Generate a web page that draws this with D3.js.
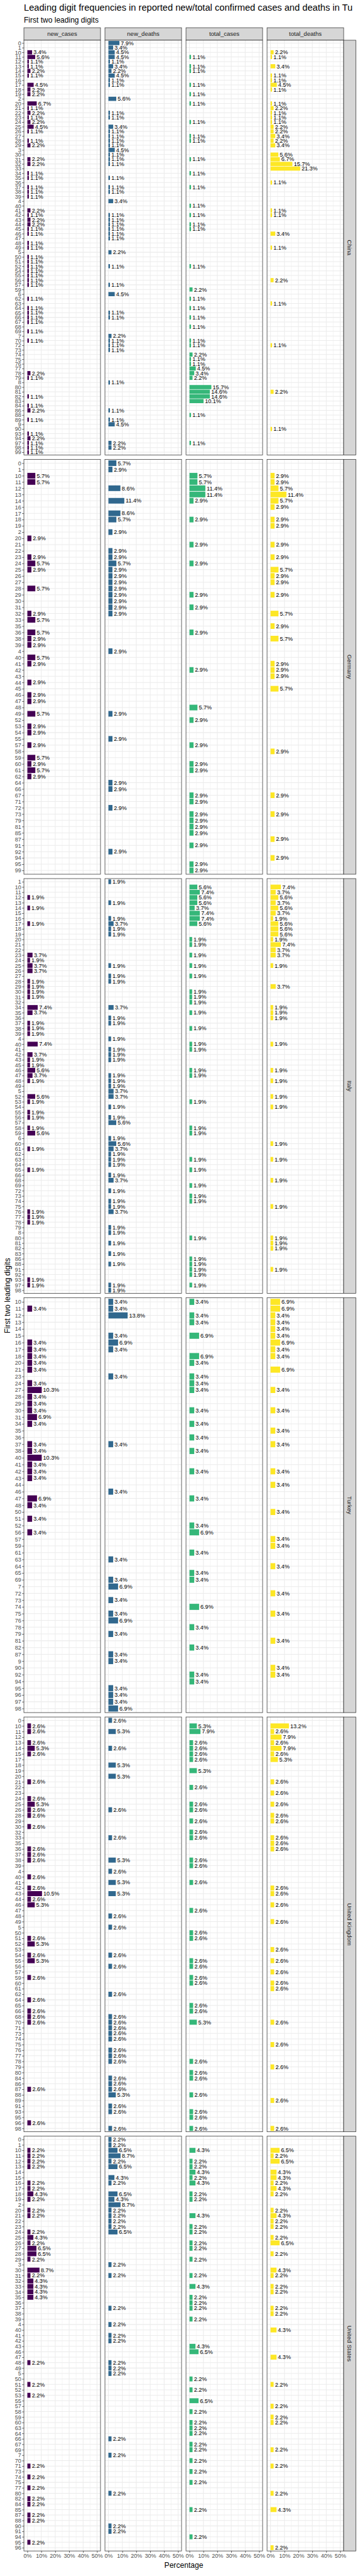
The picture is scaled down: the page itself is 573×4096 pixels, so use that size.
<!DOCTYPE html>
<html><head><meta charset="utf-8">
<script src="https://cdn.jsdelivr.net/npm/d3@7"></script>
<style>body{margin:0;background:#fff}svg{display:block}text{font-family:"Liberation Sans",Arial,sans-serif}</style>
</head><body>
<script>
// ---------- DATA ----------
const measures = ["new_cases","new_deaths","total_cases","total_deaths"];
const measureColors = ["#440154","#31688E","#35B779","#FDE725"];
const countries = ["China","Germany","Italy","Turkey","United Kingdom","United States"];
const xTicks = [0,10,20,30,40,50];

const cnCats = ["0","1","10","11","12","13","14","15","16","17","18","19","2","20","21","22","23","24","25","26","27","28","29","3","30","31","32","33","34","35","36","37","38","39","4","40","41","42","43","44","45","46","47","48","49","5","50","51","52","54","55","56","57","59","6","62","63","64","65","66","67","68","69","7","70","72","73","74","75","76","77","78","79","8","80","81","82","83","84","86","88","89","9","90","93","94","97","98","99"];
const cnNewCases = [["10",3.4],["11",5.6],["12",1.1],["13",1.1],["14",2.2],["15",1.1],["17",4.5],["18",2.2],["19",2.2],["20",6.7],["21",1.1],["22",2.2],["23",1.1],["24",2.2],["25",4.5],["26",1.1],["28",1.1],["29",2.2],["31",2.2],["32",2.2],["34",1.1],["35",1.1],["37",1.1],["38",1.1],["39",1.1],["41",2.2],["42",1.1],["43",2.2],["44",2.2],["45",1.1],["46",1.1],["48",1.1],["49",1.1],["50",1.1],["51",1.1],["52",1.1],["54",1.1],["55",1.1],["56",1.1],["57",1.1],["62",1.1],["64",1.1],["65",1.1],["66",1.1],["67",1.1],["69",1.1],["70",1.1],["78",2.2],["79",1.1],["82",1.1],["84",1.1],["86",2.2],["89",1.1],["93",1.1],["94",2.2],["97",1.1],["98",1.1],["99",1.1]];
const cnNewDeaths = [["0",7.9],["1",3.4],["10",4.5],["11",4.5],["12",1.1],["13",3.4],["14",2.2],["15",4.5],["16",1.1],["17",1.1],["2",5.6],["22",1.1],["23",1.1],["25",3.4],["26",1.1],["27",1.1],["28",1.1],["29",1.1],["3",4.5],["30",1.1],["31",1.1],["32",1.1],["35",1.1],["37",1.1],["38",1.1],["4",3.4],["42",1.1],["43",1.1],["44",1.1],["45",1.1],["46",1.1],["47",1.1],["5",2.2],["52",1.1],["57",1.1],["6",4.5],["65",1.1],["66",1.1],["7",2.2],["70",1.1],["72",1.1],["73",1.1],["8",1.1],["86",1.1],["89",1.1],["9",4.5],["97",2.2],["98",2.2]];
const cnTotalCases = [["11",1.1],["13",1.1],["14",1.1],["17",1.1],["19",1.1],["20",1.1],["24",1.1],["27",1.1],["28",1.1],["31",1.1],["34",1.1],["37",1.1],["40",1.1],["42",1.1],["44",1.1],["45",1.1],["52",1.1],["59",2.2],["62",1.1],["64",1.1],["66",1.1],["68",1.1],["70",1.1],["72",1.1],["74",2.2],["75",1.1],["76",1.1],["77",4.5],["78",3.4],["79",2.2],["80",15.7],["81",14.6],["82",14.6],["83",10.1],["88",1.1],["97",1.1]];
const cnTotalDeaths = [["10",2.2],["11",1.1],["13",3.4],["15",1.1],["16",1.1],["17",4.5],["18",1.1],["20",1.1],["21",2.2],["22",1.1],["23",1.1],["24",1.1],["25",2.2],["26",2.2],["27",3.4],["28",2.2],["29",3.4],["30",5.6],["31",6.7],["32",15.7],["33",21.3],["36",1.1],["41",1.1],["42",1.1],["46",3.4],["49",1.1],["56",2.2],["63",1.1],["72",1.1],["81",2.2],["90",1.1]];

const deCats = ["0","1","10","11","12","13","14","16","17","18","19","2","20","21","22","23","24","25","26","27","28","29","30","31","32","33","35","36","38","39","4","40","41","42","43","44","45","46","47","48","49","52","53","54","55","57","58","59","60","61","62","64","66","67","71","72","73","79","81","85","87","91","92","94","95","99"];
const deNewCases = [["10",5.7],["11",5.7],["20",2.9],["23",2.9],["24",5.7],["25",2.9],["28",5.7],["32",2.9],["33",5.7],["36",5.7],["38",2.9],["39",2.9],["40",5.7],["41",2.9],["44",2.9],["46",2.9],["47",2.9],["49",5.7],["53",2.9],["54",2.9],["57",2.9],["59",5.7],["60",2.9],["61",5.7],["62",2.9]];
const deNewDeaths = [["0",5.7],["1",2.9],["12",8.6],["14",11.4],["17",8.6],["18",5.7],["2",2.9],["22",2.9],["23",2.9],["24",5.7],["25",2.9],["26",2.9],["27",2.9],["28",2.9],["29",2.9],["30",2.9],["31",2.9],["32",2.9],["4",2.9],["49",2.9],["55",2.9],["64",2.9],["66",2.9],["72",2.9],["92",2.9]];
const deTotalCases = [["10",5.7],["11",5.7],["12",11.4],["13",11.4],["14",2.9],["18",2.9],["21",2.9],["24",2.9],["29",2.9],["31",2.9],["36",2.9],["42",2.9],["48",5.7],["52",2.9],["57",2.9],["60",2.9],["61",2.9],["67",2.9],["71",2.9],["73",2.9],["79",2.9],["81",2.9],["85",2.9],["91",2.9],["95",2.9],["99",2.9]];
const deTotalDeaths = [["10",2.9],["11",2.9],["12",5.7],["13",11.4],["14",5.7],["16",2.9],["18",2.9],["19",2.9],["21",2.9],["23",2.9],["25",5.7],["26",2.9],["27",2.9],["29",2.9],["32",5.7],["35",2.9],["38",5.7],["41",2.9],["42",2.9],["43",2.9],["45",5.7],["58",2.9],["67",2.9],["73",2.9],["87",2.9],["94",2.9]];

const itCats = ["1","10","11","12","13","14","15","16","17","18","19","20","21","22","23","24","25","26","27","28","29","30","31","32","34","35","36","37","38","39","4","40","41","42","43","45","46","47","48","49","5","52","53","54","55","56","57","58","59","6","60","61","62","63","64","65","66","68","69","72","73","74","75","76","77","78","79","8","80","81","82","83","86","88","91","92","93","97","98"];
const itNewCases = [["12",1.9],["14",1.9],["17",1.9],["23",3.7],["24",1.9],["25",3.7],["26",3.7],["28",1.9],["29",1.9],["30",1.9],["31",1.9],["34",7.4],["35",3.7],["37",1.9],["38",1.9],["39",1.9],["40",7.4],["42",3.7],["43",1.9],["45",1.9],["46",5.6],["47",3.7],["48",1.9],["52",5.6],["53",1.9],["55",1.9],["56",1.9],["58",1.9],["59",5.6],["61",1.9],["65",1.9],["76",1.9],["77",1.9],["78",1.9],["93",1.9],["97",1.9]];
const itNewDeaths = [["1",1.9],["13",1.9],["16",1.9],["17",3.7],["18",1.9],["19",1.9],["25",1.9],["27",1.9],["28",1.9],["34",3.7],["36",1.9],["37",1.9],["4",1.9],["41",1.9],["42",1.9],["43",1.9],["47",1.9],["48",1.9],["49",1.9],["5",3.7],["52",3.7],["54",1.9],["56",1.9],["57",5.6],["6",1.9],["60",5.6],["61",3.7],["62",1.9],["63",1.9],["64",1.9],["66",1.9],["68",3.7],["72",1.9],["74",1.9],["75",1.9],["76",3.7],["79",1.9],["8",1.9],["81",1.9],["83",1.9],["88",1.9],["97",1.9],["98",1.9]];
const itTotalCases = [["10",5.6],["11",7.4],["12",5.6],["13",5.6],["14",3.7],["15",7.4],["16",7.4],["17",5.6],["20",1.9],["21",1.9],["23",1.9],["25",1.9],["27",1.9],["30",1.9],["31",1.9],["32",1.9],["35",1.9],["38",1.9],["40",1.9],["41",1.9],["46",1.9],["47",1.9],["53",1.9],["58",1.9],["59",1.9],["63",1.9],["65",1.9],["69",1.9],["73",1.9],["74",1.9],["80",1.9],["86",1.9],["88",1.9],["91",1.9],["92",1.9],["97",1.9]];
const itTotalDeaths = [["10",7.4],["11",3.7],["12",5.6],["13",3.7],["14",5.6],["15",3.7],["16",1.9],["17",5.6],["18",5.6],["19",5.6],["20",1.9],["21",7.4],["22",3.7],["23",3.7],["25",1.9],["29",3.7],["34",1.9],["35",1.9],["36",1.9],["40",1.9],["46",1.9],["48",1.9],["52",1.9],["54",1.9],["60",1.9],["63",1.9],["68",1.9],["75",1.9],["80",1.9],["81",1.9],["82",1.9],["91",1.9]];

const trCats = ["10","11","12","13","14","15","16","17","18","20","21","23","24","27","28","29","30","31","34","35","36","37","38","40","41","42","43","44","46","47","48","50","51","52","56","57","59","61","63","64","65","69","7","72","73","74","75","76","78","79","81","82","87","9","90","92","94","95","96","97","98"];
const trNewCases = [["11",3.4],["16",3.4],["17",3.4],["18",3.4],["20",3.4],["21",3.4],["24",3.4],["27",10.3],["28",3.4],["29",3.4],["30",3.4],["31",6.9],["34",3.4],["37",3.4],["38",3.4],["40",10.3],["41",3.4],["42",3.4],["43",3.4],["47",6.9],["48",3.4],["51",3.4],["56",3.4]];
const trNewDeaths = [["10",3.4],["11",3.4],["12",13.8],["15",3.4],["16",6.9],["17",3.4],["23",3.4],["37",3.4],["46",3.4],["63",3.4],["69",3.4],["7",6.9],["73",3.4],["75",3.4],["76",6.9],["79",3.4],["87",3.4],["9",3.4],["95",3.4],["96",3.4],["97",3.4],["98",6.9]];
const trTotalCases = [["10",3.4],["12",3.4],["13",3.4],["15",6.9],["18",6.9],["20",3.4],["23",3.4],["24",3.4],["27",3.4],["30",3.4],["34",3.4],["36",3.4],["38",3.4],["42",3.4],["47",3.4],["52",3.4],["56",6.9],["61",3.4],["65",3.4],["69",3.4],["74",6.9],["78",3.4],["82",3.4],["92",3.4],["94",3.4]];
const trTotalDeaths = [["10",6.9],["11",6.9],["12",3.4],["13",3.4],["14",3.4],["15",3.4],["16",6.9],["17",3.4],["18",3.4],["21",6.9],["27",3.4],["30",3.4],["35",3.4],["37",3.4],["42",3.4],["44",3.4],["50",3.4],["57",3.4],["59",3.4],["64",3.4],["72",3.4],["75",3.4],["81",3.4],["90",3.4],["92",3.4]];

const ukCats = ["0","10","11","12","13","14","15","17","18","19","20","21","22","23","24","25","26","28","29","30","32","33","35","36","37","38","39","4","40","41","42","43","44","46","47","48","49","5","50","51","52","53","54","55","56","57","59","60","61","62","64","65","66","68","70","71","73","74","75","76","77","78","79","80","84","86","87","88","89","91","93","95","96","98"];
const ukNewCases = [["10",2.6],["11",2.6],["13",2.6],["14",5.3],["15",2.6],["21",2.6],["24",2.6],["25",5.3],["26",2.6],["28",2.6],["30",2.6],["36",2.6],["37",2.6],["38",2.6],["40",2.6],["42",2.6],["43",10.5],["44",2.6],["46",5.3],["51",2.6],["52",5.3],["54",2.6],["55",5.3],["59",2.6],["64",2.6],["66",2.6],["68",2.6],["70",2.6],["87",2.6],["96",2.6]];
const ukNewDeaths = [["0",2.6],["11",5.3],["14",2.6],["18",5.3],["20",5.3],["26",2.6],["33",2.6],["38",5.3],["4",2.6],["41",5.3],["43",5.3],["48",2.6],["5",2.6],["54",2.6],["56",2.6],["62",2.6],["68",2.6],["70",2.6],["71",2.6],["73",2.6],["74",2.6],["76",2.6],["77",2.6],["78",2.6],["84",2.6],["86",2.6],["87",2.6],["88",5.3],["91",2.6],["93",2.6],["98",2.6]];
const ukTotalCases = [["10",5.3],["11",7.9],["13",2.6],["14",2.6],["15",2.6],["17",2.6],["19",5.3],["22",2.6],["25",2.6],["26",2.6],["29",2.6],["32",2.6],["33",2.6],["38",2.6],["39",2.6],["41",2.6],["47",2.6],["50",2.6],["51",2.6],["55",2.6],["56",2.6],["59",2.6],["60",2.6],["65",2.6],["66",2.6],["70",5.3],["78",2.6],["80",2.6],["84",2.6],["88",2.6],["93",2.6],["95",2.6],["98",2.6]];
const ukTotalDeaths = [["10",13.2],["11",2.6],["12",7.9],["13",2.6],["14",7.9],["15",2.6],["17",5.3],["21",2.6],["23",2.6],["25",2.6],["28",2.6],["29",2.6],["33",2.6],["35",2.6],["36",2.6],["42",2.6],["43",2.6],["46",2.6],["49",2.6],["53",2.6],["55",2.6],["57",2.6],["60",2.6],["61",2.6],["70",2.6],["75",2.6],["79",2.6],["89",2.6],["98",2.6]];

const usCats = ["0","1","10","11","12","13","14","15","16","17","18","19","2","20","21","22","23","24","25","26","27","28","29","3","30","31","32","33","34","35","36","37","38","39","4","40","41","42","43","46","47","48","49","5","50","51","52","53","55","57","58","59","60","63","64","66","67","69","7","70","71","73","74","75","77","80","82","84","85","87","88","90","91","94","95","96"];
const usNewCases = [["10",2.2],["11",2.2],["12",2.2],["13",2.2],["16",2.2],["17",2.2],["18",4.3],["19",2.2],["20",2.2],["21",2.2],["24",2.2],["25",4.3],["26",2.2],["27",6.5],["28",6.5],["29",2.2],["30",8.7],["31",2.2],["32",4.3],["33",4.3],["34",4.3],["35",4.3],["48",2.2],["51",2.2],["53",2.2],["71",2.2],["74",2.2],["77",2.2],["82",2.2],["84",2.2],["87",2.2],["88",2.2],["95",2.2]];
const usNewDeaths = [["0",2.2],["1",2.2],["10",6.5],["11",8.7],["12",2.2],["13",6.5],["15",4.3],["16",2.2],["18",6.5],["19",4.3],["2",8.7],["20",2.2],["21",2.2],["22",2.2],["23",2.2],["24",6.5],["3",2.2],["31",2.2],["37",2.2],["4",2.2],["41",2.2],["42",2.2],["48",2.2],["49",2.2],["5",2.2],["66",2.2],["7",2.2],["80",2.2],["90",2.2],["91",2.2]];
const usTotalCases = [["10",4.3],["12",2.2],["13",2.2],["14",4.3],["15",2.2],["16",4.3],["18",2.2],["19",2.2],["21",4.3],["23",2.2],["24",2.2],["26",2.2],["27",2.2],["29",2.2],["31",2.2],["33",4.3],["35",2.2],["36",2.2],["37",2.2],["39",2.2],["43",4.3],["46",6.5],["50",2.2],["52",2.2],["55",6.5],["58",2.2],["60",2.2],["63",2.2],["64",2.2],["67",2.2],["69",2.2],["70",2.2],["73",2.2],["75",2.2],["85",2.2],["94",2.2]];
const usTotalDeaths = [["10",6.5],["11",2.2],["12",6.5],["14",4.3],["15",4.3],["16",2.2],["17",4.3],["18",2.2],["20",2.2],["21",4.3],["22",2.2],["23",2.2],["25",2.2],["26",6.5],["28",2.2],["30",4.3],["31",2.2],["33",2.2],["34",2.2],["37",2.2],["38",2.2],["40",4.3],["47",4.3],["51",2.2],["57",2.2],["59",2.2],["60",2.2],["69",2.2],["71",2.2],["80",2.2],["85",4.3],["96",2.2]];

const rowCats = [cnCats, deCats, itCats, trCats, ukCats, usCats];
const rowData = [
  [cnNewCases, cnNewDeaths, cnTotalCases, cnTotalDeaths],
  [deNewCases, deNewDeaths, deTotalCases, deTotalDeaths],
  [itNewCases, itNewDeaths, itTotalCases, itTotalDeaths],
  [trNewCases, trNewDeaths, trTotalCases, trTotalDeaths],
  [ukNewCases, ukNewDeaths, ukTotalCases, ukTotalDeaths],
  [usNewCases, usNewDeaths, usTotalCases, usTotalDeaths]
];

// ---------- LAYOUT (reference pixel units, scaled to window) ----------
const S = 573/672;
const panelL0 = 44.6, colStep = 151.3, panelW = 143;
const panelT0 = 75, rowStep = 781.7, panelH = 773.5;
const stripTopY = 51.7, stripTopH = 23.3, stripRW = 22.7;
const fontFam = '"Liberation Sans",Arial,sans-serif';

const svg = d3.select("body").append("svg").attr("width",573).attr("height",4096);
svg.append("rect").attr("width",573).attr("height",4096).attr("fill","#fff");
const g = svg.append("g").attr("transform",`scale(${S})`);

// title (the reference shows it running to the right edge, ending at "Tu")
g.append("text").attr("x",44.6).attr("y",20).attr("font-size",17.2).attr("fill","#000")
  .text("Leading digit frequencies in reported new/total confirmed cases and deaths in Tu");
g.append("text").attr("x",44.6).attr("y",41.7).attr("font-size",14.1).attr("fill","#000")
  .text("First two leading digits");

const xScales = measures.map((m,c)=>d3.scaleLinear().domain([-2.5,52.5]).range([panelL0+c*colStep, panelL0+c*colStep+panelW]));

// top strips
measures.forEach((m,c)=>{
  const L = panelL0+c*colStep;
  g.append("rect").attr("x",L).attr("y",stripTopY).attr("width",panelW).attr("height",stripTopH)
    .attr("fill","#D6D6D6").attr("stroke","#333").attr("stroke-width",0.9);
  g.append("text").attr("x",L+panelW/2).attr("y",stripTopY+stripTopH/2).attr("dy","0.36em")
    .attr("text-anchor","middle").attr("font-size",11.2).attr("fill","#1A1A1A").text(m);
});

countries.forEach((country,r)=>{
  const T = panelT0 + r*rowStep;
  const cats = rowCats[r];
  const y = d3.scalePoint().domain(cats).range([T, T+panelH]).padding(0.6);
  const bh = y.step()*0.9;

  measures.forEach((m,c)=>{
    const x = xScales[c];
    const L = panelL0+c*colStep;
    const pg = g.append("g");
    pg.append("rect").attr("x",L).attr("y",T).attr("width",panelW).attr("height",panelH).attr("fill","#fff");
    pg.selectAll(".mn").data([5,15,25,35,45]).join("line")
      .attr("x1",d=>x(d)).attr("x2",d=>x(d)).attr("y1",T).attr("y2",T+panelH)
      .attr("stroke","#EBEBEB").attr("stroke-width",0.6);
    pg.selectAll(".mj").data(xTicks).join("line")
      .attr("x1",d=>x(d)).attr("x2",d=>x(d)).attr("y1",T).attr("y2",T+panelH)
      .attr("stroke","#EBEBEB").attr("stroke-width",1.2);
    pg.selectAll(".hg").data(cats).join("line")
      .attr("x1",L).attr("x2",L+panelW).attr("y1",d=>y(d)).attr("y2",d=>y(d))
      .attr("stroke","#EBEBEB").attr("stroke-width",1.2);
    const data = rowData[r][c];
    pg.selectAll(".bar").data(data).join("rect")
      .attr("x",x(0)).attr("y",d=>y(d[0])-bh/2)
      .attr("width",d=>x(d[1])-x(0)).attr("height",bh)
      .attr("fill",measureColors[c]);
    pg.selectAll(".lbl").data(data).join("text")
      .attr("x",d=>x(d[1])+2.6).attr("y",d=>y(d[0])).attr("dy","0.36em")
      .attr("font-size",10.6).attr("fill","#000")
      .text(d=>d[1].toFixed(1)+"%");
    pg.append("rect").attr("x",L).attr("y",T).attr("width",panelW).attr("height",panelH)
      .attr("fill","none").attr("stroke","#333").attr("stroke-width",0.9);
  });

  const ya = g.append("g").attr("transform",`translate(${panelL0},0)`)
    .call(d3.axisLeft(y).tickSize(3.3).tickPadding(1.8));
  ya.select(".domain").remove();
  ya.selectAll(".tick line").attr("stroke","#333").attr("stroke-width",0.9);
  ya.selectAll(".tick text").attr("fill","#4D4D4D").attr("font-size",10.6).attr("font-family",fontFam);

  const RL = panelL0+3*colStep+panelW;
  g.append("rect").attr("x",RL).attr("y",T).attr("width",stripRW).attr("height",panelH)
    .attr("fill","#D6D6D6").attr("stroke","#333").attr("stroke-width",0.9);
  g.append("text").attr("transform",`translate(${RL+stripRW/2},${T+panelH/2}) rotate(90)`)
    .attr("dy","0.36em").attr("text-anchor","middle").attr("font-size",11.2).attr("fill","#1A1A1A").text(country);
});

const bottom = panelT0 + 5*rowStep + panelH;
measures.forEach((m,c)=>{
  const xa = g.append("g").attr("transform",`translate(0,${bottom})`)
    .call(d3.axisBottom(xScales[c]).tickValues(xTicks).tickFormat(d=>d+"%").tickSize(3.3).tickPadding(1.8));
  xa.select(".domain").remove();
  xa.selectAll(".tick line").attr("stroke","#333").attr("stroke-width",0.9);
  xa.selectAll(".tick text").attr("fill","#4D4D4D").attr("font-size",10.6).attr("font-family",fontFam);
});

g.append("text").attr("x",(panelL0+panelL0+3*colStep+panelW)/2).attr("y",4789)
  .attr("text-anchor","middle").attr("font-size",14.2).attr("fill","#000").text("Percentage");
g.append("text").attr("transform",`translate(18.6,${(panelT0+bottom)/2}) rotate(-90)`)
  .attr("text-anchor","middle").attr("font-size",14.2).attr("fill","#000").text("First two leading digits");
</script>
</body></html>
